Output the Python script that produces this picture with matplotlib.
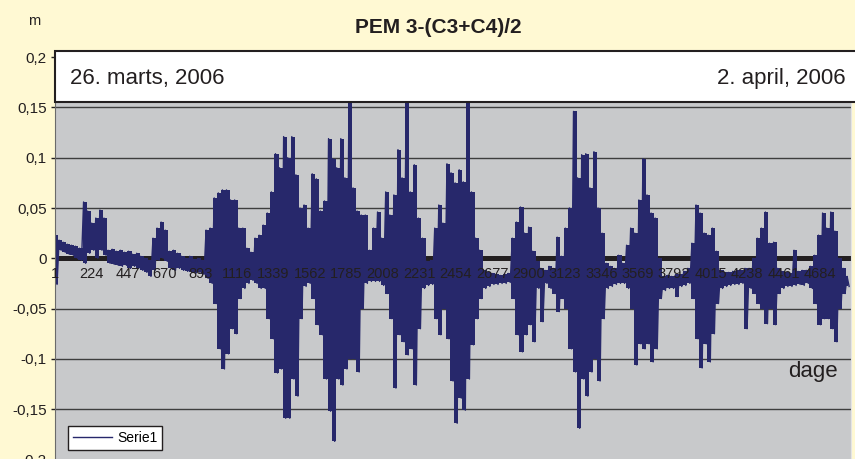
import matplotlib
matplotlib.use('Agg')
import matplotlib.pyplot as plt
from matplotlib.patches import Rectangle

plt.rcParams['font.family'] = ['Liberation Sans', 'DejaVu Sans']

# Envelope: highest and lowest value in each block of 25 samples
bin_size = 25
top_env = [
    0.023, 0.018, 0.016, 0.014, 0.013, 0.012, 0.010, 0.056, 0.047, 0.035,
    0.040, 0.048, 0.040, 0.008, 0.009, 0.007, 0.008, 0.006, 0.007, 0.004,
    0.005, 0.002, 0.000, -0.002, 0.020, 0.030, 0.036, 0.028, 0.007, 0.008,
    0.005, 0.002, 0.000, 0.002, -0.001, 0.000, -0.002, 0.028, 0.030, 0.060,
    0.065, 0.068, 0.068, 0.058, 0.058, 0.030, 0.030, 0.010, 0.006, 0.020,
    0.023, 0.033, 0.045, 0.066, 0.104, 0.090, 0.121, 0.100, 0.121, 0.083,
    0.050, 0.053, 0.030, 0.084, 0.079, 0.047, 0.057, 0.119, 0.099, 0.090,
    0.119, 0.080, 0.160, 0.070, 0.047, 0.043, 0.043, 0.008, 0.030, 0.046,
    0.020, 0.066, 0.043, 0.063, 0.108, 0.080, 0.160, 0.066, 0.093, 0.040,
    0.020, -0.003, -0.002, 0.030, 0.053, 0.035, 0.094, 0.085, 0.075, 0.088,
    0.076, 0.160, 0.066, 0.020, 0.008, -0.012, -0.014, -0.015, -0.016, -0.017,
    -0.016, -0.015, 0.020, 0.036, 0.051, 0.025, 0.031, 0.007, -0.003, -0.010,
    -0.012, -0.008, -0.010, 0.021, 0.002, 0.030, 0.050, 0.146, 0.080, 0.103,
    0.104, 0.070, 0.106, 0.050, 0.025, -0.005, -0.008, -0.010, 0.003, -0.005,
    0.013, 0.030, 0.025, 0.058, 0.099, 0.063, 0.045, 0.040, 0.000, -0.018,
    -0.017, -0.018, -0.016, -0.016, -0.013, -0.010, 0.015, 0.053, 0.045, 0.025,
    0.023, 0.030, 0.007, -0.012, -0.014, -0.014, -0.013, -0.012, -0.012, -0.010,
    -0.010, 0.000, 0.020, 0.030, 0.046, 0.015, 0.016, -0.010, -0.013, -0.014,
    -0.015, 0.008, -0.013, -0.012, -0.012, -0.008, 0.003, 0.023, 0.045, 0.030,
    0.046, 0.027, 0.000, -0.010, -0.018,
]
bottom_env = [
    -0.026, 0.008, 0.006, 0.004, 0.003, 0.000, -0.002, -0.005, 0.005, 0.008,
    0.000, 0.008, 0.003, -0.005, -0.006, -0.007, -0.008, -0.007, -0.010, -0.008,
    -0.010, -0.012, -0.014, -0.018, -0.012, -0.002, 0.000, -0.003, -0.010, -0.012,
    -0.010, -0.012, -0.013, -0.014, -0.015, -0.014, -0.016, -0.020, -0.025, -0.045,
    -0.090, -0.110, -0.095, -0.070, -0.075, -0.040, -0.030, -0.025, -0.022, -0.025,
    -0.030, -0.030, -0.060, -0.080, -0.114, -0.110, -0.159, -0.159, -0.120, -0.137,
    -0.060, -0.028, -0.025, -0.040, -0.066, -0.076, -0.120, -0.152, -0.182, -0.120,
    -0.126, -0.110, -0.100, -0.100, -0.113, -0.050, -0.025, -0.023, -0.023, -0.023,
    -0.027, -0.035, -0.060, -0.129, -0.076, -0.083, -0.096, -0.090, -0.126, -0.070,
    -0.030, -0.027, -0.026, -0.060, -0.076, -0.050, -0.080, -0.122, -0.164, -0.139,
    -0.151, -0.120, -0.086, -0.060, -0.040, -0.030, -0.028, -0.026, -0.026, -0.025,
    -0.025, -0.024, -0.040, -0.076, -0.093, -0.076, -0.066, -0.083, -0.030, -0.063,
    -0.025, -0.030, -0.035, -0.053, -0.040, -0.050, -0.090, -0.113, -0.169, -0.120,
    -0.137, -0.113, -0.100, -0.122, -0.060, -0.030, -0.028, -0.026, -0.025, -0.025,
    -0.030, -0.050, -0.106, -0.085, -0.090, -0.085, -0.103, -0.090, -0.040, -0.032,
    -0.030, -0.030, -0.038, -0.028, -0.027, -0.025, -0.040, -0.080, -0.109, -0.085,
    -0.103, -0.075, -0.045, -0.030, -0.028, -0.027, -0.026, -0.026, -0.025, -0.070,
    -0.030, -0.035, -0.045, -0.050, -0.065, -0.050, -0.066, -0.035, -0.030, -0.028,
    -0.028, -0.027, -0.026, -0.027, -0.025, -0.030, -0.045, -0.066, -0.060, -0.060,
    -0.070, -0.083, -0.050, -0.035, -0.028,
]

xtick_labels = [1, 224, 447, 670, 893, 1116, 1339, 1562, 1785, 2008, 2231,
                2454, 2677, 2900, 3123, 3346, 3569, 3792, 4015, 4238, 4461, 4684]
ytick_vals = [-0.2, -0.15, -0.1, -0.05, 0, 0.05, 0.1, 0.15, 0.2]
ytick_text = ['-0,2', '-0,15', '-0,1', '-0,05', '0', '0,05', '0,1', '0,15', '0,2']

# sample index of each block, and the zigzag through top/bottom values
bin_x = [1 + k * bin_size + bin_size / 4 for k in range(len(top_env))]
xs, ys = [], []
for k, (hi, lo) in enumerate(zip(top_env, bottom_env)):
    xs += [1 + k * bin_size, 1 + k * bin_size + bin_size / 2]
    ys += [hi, lo]

W, H = 855, 459
ink = '#231f20'
navy = '#27286b'
fig = plt.figure(figsize=(W / 100, H / 100), dpi=100, facecolor='#fff9d3')
ax = fig.add_axes([55 / W, 1 - 459.5 / H, 796 / W, 402.4 / H])
ax.set_facecolor('#c8c9cb')

ax.set_xlim(1, len(top_env) * bin_size)
ax.set_ylim(-0.2, 0.2)
ax.set_yticks(ytick_vals)
ax.set_yticklabels(ytick_text)
ax.set_xticks([])
ax.yaxis.grid(True, color='#3e3e3e', linewidth=1)
ax.set_axisbelow(True)
ax.tick_params(axis='y', length=3, width=1, color=ink, labelcolor=ink,
               labelsize=11, pad=3)

ax.spines['top'].set_visible(False)
ax.spines['bottom'].set_visible(False)
ax.spines['right'].set_color('#e4e4e4')
ax.spines['left'].set_color('#6a6a6a')

# thick category axis at zero
ax.axhline(0, color=ink, linewidth=3.6, zorder=1.5)
ax.fill_between(bin_x, top_env, bottom_env, step='mid', color=navy, linewidth=0, zorder=2)
ax.plot(xs, ys, color=navy, linewidth=1.0, zorder=2, label='Serie1')

for lab in xtick_labels:
    ax.annotate(str(lab), (lab, 0), xytext=(0, -11), textcoords='offset points',
                ha='center', va='center', fontsize=10.5, color=ink, zorder=3)

leg = ax.legend(loc='lower left', bbox_to_anchor=(68 / W, 1 - 450 / H),
                bbox_transform=fig.transFigure, fancybox=False, framealpha=1,
                facecolor='white', edgecolor=ink, fontsize=10, handlelength=2.8,
                borderpad=0.35, borderaxespad=0, handletextpad=0.4)
leg.get_frame().set_linewidth(1.0)

# white date strip over the top of the plot
box = Rectangle((55 / W, 1 - 101.5 / H), 810 / W, 50 / H, transform=fig.transFigure,
                facecolor='white', edgecolor=ink, linewidth=1.5, zorder=5)
fig.add_artist(box)
fig.text(70 / W, 1 - 84 / H, '26. marts, 2006', fontsize=16, color=ink,
         ha='left', va='baseline', zorder=6)
fig.text(846 / W, 1 - 84 / H, '2. april, 2006', fontsize=16, color=ink,
         ha='right', va='baseline', zorder=6)

fig.text(438.5 / W, 1 - 33.3 / H, 'PEM 3-(C3+C4)/2', fontsize=15, fontweight='bold',
         color=ink, ha='center', va='baseline')
fig.text(34 / W, 1 - 25 / H, 'm', fontsize=10.5, color=ink, ha='center', va='baseline')
fig.text(838 / W, 1 - 376.5 / H, 'dage', fontsize=16, color=ink, ha='right',
         va='baseline', zorder=6)

fig.savefig('out.png', dpi=100, facecolor=fig.get_facecolor())
